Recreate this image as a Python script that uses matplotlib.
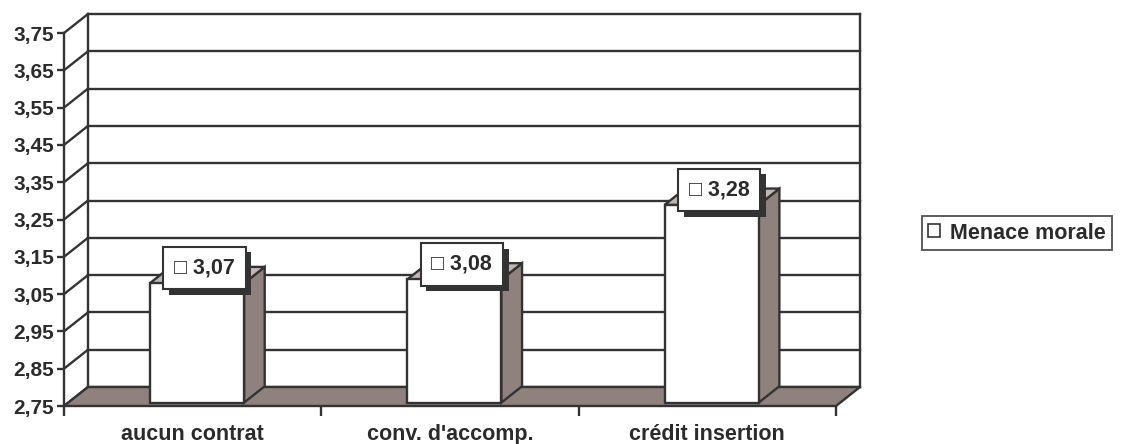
import matplotlib
matplotlib.use("Agg")
import matplotlib.pyplot as plt
from matplotlib.patches import Polygon, Patch
import matplotlib.patheffects as pe

categories = ["aucun contrat", "conv. d'accomp.", "crédit insertion"]
values = [3.07, 3.08, 3.28]
series_name = "Menace morale"
y_ticks = [2.75, 2.85, 2.95, 3.05, 3.15, 3.25, 3.35, 3.45, 3.55, 3.65, 3.75]

LINE = "#333333"
TEXT = "#2b2b2b"
SIDE = "#8f817d"
TOP = "#c3b6b1"
FONT = ["Liberation Sans", "DejaVu Sans"]
FS = 15.5

W, H, DPI = 1127, 444, 100
fig = plt.figure(figsize=(W / DPI, H / DPI), dpi=DPI)
fig.patch.set_facecolor("white")

# front plane of the 3-D box, in pixels
left_px, right_px, bottom_px, top_px = 64, 836, 406, 33
ax = fig.add_axes([left_px / W, (H - bottom_px) / H,
                   (right_px - left_px) / W, (bottom_px - top_px) / H])
ymin, ymax = y_ticks[0], y_ticks[-1]
ncat = len(categories)
ax.set_xlim(0, ncat)
ax.set_ylim(ymin, ymax)
ax.set_facecolor("none")

# depth offset of the back wall, converted to data units
px_per_x = (right_px - left_px) / ncat
px_per_y = (bottom_px - top_px) / (ymax - ymin)
DX = 24 / px_per_x
DY = 19 / px_per_y


def P(x, y, d):
    """Point at data (x, y) pushed back by depth fraction d."""
    return (x + d * DX, y + d * DY)


def poly(pts, fc, z, lw=1.7):
    ax.add_patch(Polygon(pts, closed=True, facecolor=fc, edgecolor=LINE,
                         linewidth=lw, joinstyle="miter", zorder=z, clip_on=False))


def line(p, q, z=2, lw=1.7):
    ax.plot([p[0], q[0]], [p[1], q[1]], color=LINE, lw=lw, zorder=z,
            clip_on=False, solid_capstyle="projecting")


# back wall: gridlines and frame
for t in y_ticks:
    line(P(0, t, 1), P(ncat, t, 1))
    line(P(0, t, 0), P(0, t, 1))
line(P(0, ymin, 1), P(0, ymax, 1))
line(P(ncat, ymin, 1), P(ncat, ymax, 1))

# floor
poly([P(0, ymin, 0), P(ncat, ymin, 0), P(ncat, ymin, 1), P(0, ymin, 1)], SIDE, 3)

# bars
bar_w = 0.366
d0, d1 = 0.18, 1.04
for i, v in enumerate(values):
    x0 = i + 0.5 - bar_w / 2
    x1 = i + 0.5 + bar_w / 2
    poly([P(x1, ymin, d0), P(x1, ymin, d1), P(x1, v, d1), P(x1, v, d0)], SIDE, 4)
    poly([P(x0, v, d0), P(x1, v, d0), P(x1, v, d1), P(x0, v, d1)], TOP, 4)
    poly([P(x0, ymin, d0), P(x1, ymin, d0), P(x1, v, d0), P(x0, v, d0)], "white", 5)

# value labels with drop shadow
for i, v in enumerate(values):
    xy = P(i + 0.5, v, (d0 + d1) / 2)
    txt = ax.annotate("\u25a1 " + f"{v:.2f}".replace(".", ","), xy=xy,
                      xytext=(-2, 5), textcoords="offset points",
                      ha="center", va="center", fontsize=FS, fontweight="bold",
                      color=TEXT, family=FONT, zorder=10, annotation_clip=False,
                      bbox=dict(boxstyle="square,pad=0.5", fc="white",
                                ec=LINE, lw=1.5))
    txt.get_bbox_patch().set_path_effects([
        pe.SimplePatchShadow(offset=(4, -4), shadow_rgbFace="#333333", alpha=1.0),
        pe.Normal()])

# axes lines and ticks
for s in ["top", "right", "bottom"]:
    ax.spines[s].set_visible(False)
ax.spines["left"].set_color(LINE)
ax.spines["left"].set_linewidth(1.7)
ax.spines["left"].set_zorder(6)

ax.set_yticks(y_ticks)
ax.set_yticklabels([f"{t:.2f}".replace(".", ",") for t in y_ticks])
ax.tick_params(axis="y", direction="out", length=5, width=1.7, color=LINE,
               labelsize=15, labelcolor=TEXT, pad=2)
ax.set_xticks(range(ncat + 1))
ax.set_xticklabels([""] * (ncat + 1))
ax.set_xticks([i + 0.5 for i in range(ncat)], minor=True)
ax.set_xticklabels(categories, minor=True)
ax.tick_params(axis="x", which="major", direction="out", length=7, width=1.7,
               color=LINE)
ax.tick_params(axis="x", which="minor", length=0, labelsize=FS,
               labelcolor=TEXT, pad=13)
for lab in ax.get_yticklabels() + ax.get_xticklabels(minor=True):
    lab.set_fontweight("bold")
    lab.set_family(FONT)

# legend
leg = fig.legend(handles=[Patch(facecolor="white", edgecolor=LINE, lw=1.2)],
                 labels=[series_name], loc="center left",
                 bbox_to_anchor=(922 / W, 1 - 233 / H), frameon=True,
                 fancybox=False, handlelength=0.55, handleheight=0.55,
                 handletextpad=0.45, borderpad=0.3, borderaxespad=0,
                 prop=dict(family=FONT, weight="bold", size=FS))
leg.get_frame().set_edgecolor(LINE)
leg.get_frame().set_linewidth(1.4)
for t in leg.get_texts():
    t.set_color(TEXT)

fig.savefig("out.png", dpi=DPI, facecolor="white")
